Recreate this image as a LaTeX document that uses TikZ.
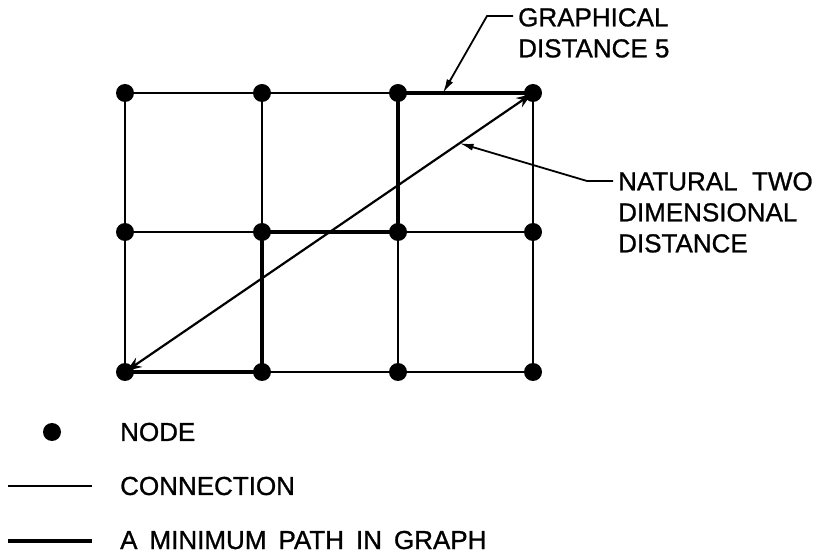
\documentclass[tikz,border=0pt]{standalone}
\usepackage{fontspec}
\setmainfont{Liberation Sans}
\newfontfamily\lblfont[FakeBold=1]{Liberation Sans}
\usetikzlibrary{arrows.meta, positioning, calc}

\begin{document}
\begin{tikzpicture}[x=1pt, y=-1pt,
	dot/.style={circle, fill=black, inner sep=0pt, minimum size=18pt},
	conn/.style={line width=1.8pt},
	minpath/.style={line width=4pt},
	leader/.style={line width=1.8pt, -{Latex[length=14pt,width=7pt]}},
	lbl/.style={inner sep=0pt, align=left, font=\lblfont\fontsize{26}{31}\selectfont},
	every node/.style={align=left}
	]
	\useasboundingbox (0,0) rectangle (820,553);
	
	% grid of nodes
	\foreach \r/\y in {1/93, 2/232, 3/372}
	\foreach \c/\x in {1/125, 2/262, 3/398, 4/533}
	\node[dot] (n\r\c) at (\x,\y) {};
	
	% connections
	\foreach \r in {1,2,3}
	\foreach \c/\d in {1/2, 2/3, 3/4}
	\draw[conn] (n\r\c) -- (n\r\d);
	\foreach \c in {1,2,3,4}
	{\draw[conn] (n1\c) -- (n2\c);
	 \draw[conn] (n2\c) -- (n3\c);}
	
	% minimum path
	\draw[minpath] (n31.center) -- (n32.center) -- (n22.center) -- (n23.center) -- (n13.center) -- (n14.center);
	
	% natural distance
	\draw[line width=2.2pt, {Stealth[length=15pt,width=11pt]}-{Stealth[length=15pt,width=11pt]}, shorten <=2pt, shorten >=2pt] (n31.center) -- (n14.center);
	
	% labels
	\node[lbl, anchor=north west] (gd) at (518,8) {GRAPHICAL\\DISTANCE 5};
	\node[lbl, anchor=north west] (nd) at (618,172) {NATURAL\ \ TWO\\DIMENSIONAL\\DISTANCE};
	\coordinate (gdtip) at ($(n13)!0.333!(n14)$);
	\coordinate (ndtip) at ($(n31)!0.82!(n14)$);
	\draw[leader] ([shift={(-5pt,-8pt)}]gd.north west) -- ++(-26pt,0) -- (gdtip);
	\draw[leader] ([shift={(-5pt,-9pt)}]nd.north west) -- ++(-26pt,0) -- (ndtip);
	
	% legend
	\node[dot] (legnode) at (52,432) {};
	\coordinate (cona) at (8,486);
	\coordinate (conb) at (92,486);
	\coordinate (mina) at (8,541);
	\coordinate (minb) at (92,541);
	\draw[conn] (cona) -- (conb);
	\draw[minpath] (mina) -- (minb);
	\node[lbl, anchor=west] (legnodetxt) at (120,432) {NODE};
	\node[lbl, anchor=west] (legcontxt) at (120,486) {CONNECTION};
	\node[lbl, anchor=base west] (legmintxt) at (120,549) {A\hspace{12pt}MINIMUM\hspace{12pt}PATH\hspace{12pt}IN\hspace{12pt}GRAPH};
\end{tikzpicture}
\end{document}
